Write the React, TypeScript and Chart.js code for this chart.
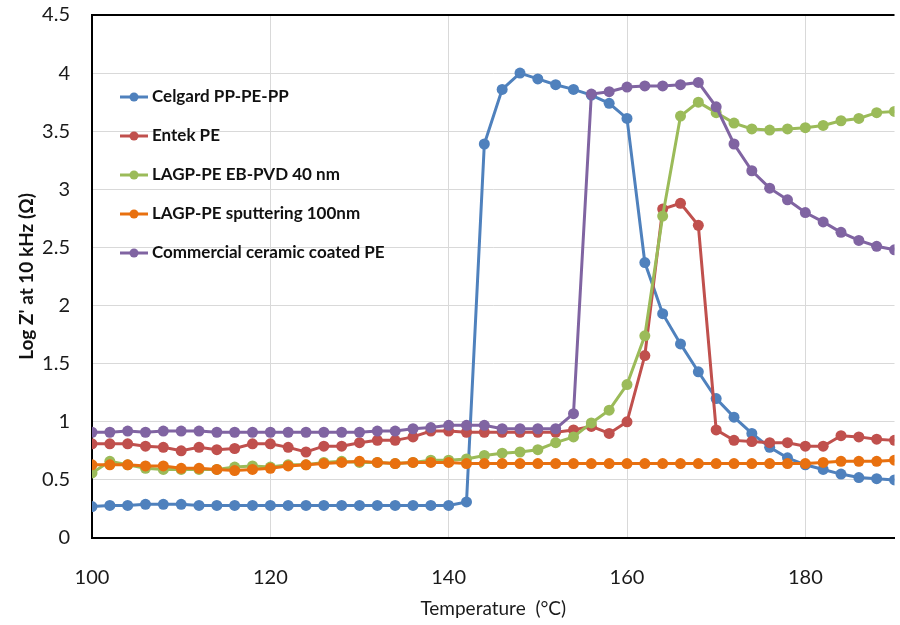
import React, { useEffect, useRef } from "react";
import { Chart, registerables } from "chart.js";

Chart.register(...registerables);

const temperatures = [
  100, 102, 104, 106, 108, 110, 112, 114, 116, 118, 120, 122, 124, 126, 128, 130,
  132, 134, 136, 138, 140, 142, 144, 146, 148, 150, 152, 154, 156, 158, 160, 162,
  164, 166, 168, 170, 172, 174, 176, 178, 180, 182, 184, 186, 188, 190,
];

const celgard = [
  0.27, 0.28, 0.28, 0.29, 0.29, 0.29, 0.28, 0.28, 0.28, 0.28, 0.28, 0.28, 0.28, 0.28, 0.28, 0.28,
  0.28, 0.28, 0.28, 0.28, 0.28, 0.31, 3.39, 3.86, 4.0, 3.95, 3.9, 3.86, 3.81, 3.74, 3.61, 2.37,
  1.93, 1.67, 1.43, 1.2, 1.04, 0.9, 0.78, 0.69, 0.63, 0.59, 0.55, 0.52, 0.51, 0.5,
];

const entek = [
  0.81, 0.81, 0.81, 0.79, 0.78, 0.75, 0.78, 0.76, 0.77, 0.81, 0.81, 0.78, 0.74, 0.79, 0.79, 0.82,
  0.84, 0.84, 0.87, 0.92, 0.92, 0.91, 0.91, 0.91, 0.91, 0.91, 0.91, 0.93, 0.96, 0.9, 1.0, 1.57,
  2.83, 2.88, 2.69, 0.93, 0.84, 0.83, 0.82, 0.82, 0.79, 0.79, 0.88, 0.87, 0.85, 0.84,
];

const lagpEbPvd = [
  0.56, 0.66, 0.63, 0.6, 0.59, 0.59, 0.59, 0.59, 0.61, 0.62, 0.61, 0.63, 0.63, 0.65, 0.66, 0.65,
  0.65, 0.64, 0.65, 0.67, 0.67, 0.68, 0.71, 0.73, 0.74, 0.76, 0.82, 0.87, 0.99, 1.1, 1.32, 1.74,
  2.77, 3.63, 3.75, 3.66, 3.57, 3.52, 3.51, 3.52, 3.53, 3.55, 3.59, 3.61, 3.66, 3.67,
];

const lagpSputter = [
  0.63, 0.63, 0.63, 0.62, 0.62, 0.6, 0.6, 0.59, 0.58, 0.59, 0.6, 0.62, 0.63, 0.64, 0.65, 0.66,
  0.65, 0.64, 0.65, 0.65, 0.65, 0.64, 0.64, 0.64, 0.64, 0.64, 0.64, 0.64, 0.64, 0.64, 0.64, 0.64,
  0.64, 0.64, 0.64, 0.64, 0.64, 0.64, 0.64, 0.64, 0.64, 0.65, 0.66, 0.66, 0.66, 0.67,
];

const ceramicPE = [
  0.91, 0.91, 0.92, 0.91, 0.92, 0.92, 0.92, 0.91, 0.91, 0.91, 0.91, 0.91, 0.91, 0.91, 0.91, 0.91,
  0.92, 0.92, 0.94, 0.95, 0.97, 0.97, 0.97, 0.94, 0.94, 0.94, 0.94, 1.07, 3.82, 3.84, 3.88, 3.89,
  3.89, 3.9, 3.92, 3.71, 3.39, 3.16, 3.01, 2.91, 2.8, 2.72, 2.63, 2.56, 2.51, 2.48,
];

const seriesNames = [
  "Celgard PP-PE-PP",
  "Entek PE",
  "LAGP-PE EB-PVD 40 nm",
  "LAGP-PE sputtering 100nm",
  "Commercial ceramic coated PE",
];
const seriesValues = [celgard, entek, lagpEbPvd, lagpSputter, ceramicPE];
const seriesColors = ["#4F81BD", "#C0504D", "#9BBB59", "#E8700F", "#8064A2"];

const xTitle = "Temperature  (°C)";
const yTitle = "Log Z' at 10 kHz (Ω)";

const FONT = "Lato, 'Open Sans', sans-serif";

const insideLegend = {
  id: "insideLegend",
  afterDatasetsDraw(chart: any) {
    const { ctx, chartArea } = chart;
    ctx.save();
    const x0 = chartArea.left + 28;
    let y = chartArea.top + 82;
    chart.data.datasets.forEach((ds: any) => {
      ctx.strokeStyle = ds.borderColor;
      ctx.lineWidth = 3;
      ctx.beginPath();
      ctx.moveTo(x0, y);
      ctx.lineTo(x0 + 28, y);
      ctx.stroke();
      ctx.fillStyle = ds.borderColor;
      ctx.beginPath();
      ctx.arc(x0 + 14, y, 4.5, 0, Math.PI * 2);
      ctx.fill();
      ctx.fillStyle = "#111";
      ctx.font = `bold 17px ${FONT}`;
      ctx.textBaseline = "middle";
      ctx.textAlign = "left";
      ctx.fillText(ds.label, x0 + 32, y);
      y += 39;
    });
    ctx.restore();
  },
};

export default function App() {
  const canvasRef = useRef<HTMLCanvasElement | null>(null);

  useEffect(() => {
    document.body.style.margin = "0";
    const canvas = canvasRef.current;
    if (!canvas) return;
    const drawOrder = [4, 3, 2, 1, 0];
    const chart = new Chart(canvas, {
      type: "line",
      data: {
        datasets: seriesNames.map((name, i) => ({
          label: name,
          data: temperatures.map((t, j) => ({ x: t, y: seriesValues[i][j] })),
          borderColor: seriesColors[i],
          backgroundColor: seriesColors[i],
          borderWidth: 3,
          pointRadius: 5.5,
          pointHoverRadius: 5.5,
          pointBorderWidth: 0,
          tension: 0,
          order: drawOrder[i],
        })),
      },
      options: {
        animation: false,
        responsive: false,
        maintainAspectRatio: false,
        layout: { padding: { top: 15, right: 1, left: 0, bottom: 0 } },
        plugins: {
          legend: { display: false },
          tooltip: { enabled: false },
        },
        scales: {
          x: {
            type: "linear",
            min: 100,
            max: 190,
            afterFit: (scale: any) => {
              scale.height = 87;
            },
            ticks: {
              stepSize: 20,
              includeBounds: false,
              padding: 28,
              color: "#1a1a1a",
              font: { family: FONT, size: 20 },
            },
            grid: { color: "#d9d9d9", lineWidth: 1, drawTicks: false },
            border: { color: "#000", width: 2 },
            title: {
              display: true,
              text: xTitle,
              color: "#1a1a1a",
              font: { family: FONT, size: 19 },
              padding: { top: 0, bottom: 5 },
            },
          },
          y: {
            min: 0,
            max: 4.5,
            afterFit: (scale: any) => {
              scale.width = 92;
              scale.paddingTop = 0;
              scale.paddingBottom = 0;
            },
            ticks: {
              stepSize: 0.5,
              padding: 22,
              color: "#1a1a1a",
              font: { family: FONT, size: 20 },
              callback: (v: any) => String(Number(v)),
            },
            grid: {
              color: (c: any) => (c.tick && c.tick.value === 4.5 ? "#000" : "#d9d9d9"),
              lineWidth: (c: any) => (c.tick && c.tick.value === 4.5 ? 2 : 1),
              drawTicks: false,
            },
            border: { color: "#000", width: 2 },
            title: {
              display: true,
              text: yTitle,
              color: "#111",
              font: { family: FONT, size: 19, weight: "bold" },
              padding: { top: 15, bottom: 0 },
            },
          },
        },
      },
      plugins: [insideLegend],
    } as any);
    return () => chart.destroy();
  }, []);

  return (
    <div style={{ width: 900, height: 625 }}>
      <canvas ref={canvasRef} width={900} height={625} style={{ display: "block" }} />
    </div>
  );
}
